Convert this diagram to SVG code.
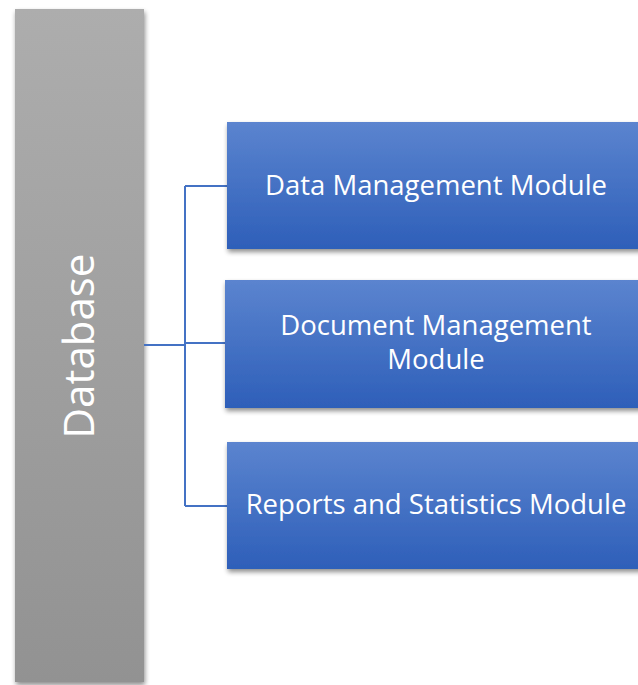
<svg xmlns="http://www.w3.org/2000/svg" width="638" height="685" viewBox="0 0 638 685">
<defs>
<linearGradient id="gray" x1="0" y1="0" x2="0" y2="1"><stop offset="0" stop-color="#adadad"/><stop offset="1" stop-color="#929292"/></linearGradient>
<linearGradient id="blue" x1="0" y1="0" x2="0" y2="1"><stop offset="0" stop-color="#5b84cf"/><stop offset="1" stop-color="#2e5fb9"/></linearGradient>
<filter id="sh" x="-10%" y="-10%" width="130%" height="130%"><feGaussianBlur in="SourceAlpha" stdDeviation="2.5"/><feOffset dx="1" dy="3"/><feComponentTransfer><feFuncA type="linear" slope="0.45"/></feComponentTransfer><feMerge><feMergeNode/><feMergeNode in="SourceGraphic"/></feMerge></filter>
</defs>
<style>
.box{fill:url(#blue);filter:url(#sh)}
.lbl{font-family:"Open Sans","DejaVu Sans",sans-serif;fill:#fff;text-anchor:middle}
.con{fill:none;stroke:#4472c4;stroke-width:2}
</style>
<g id="database">
<rect x="15" y="9" width="129" height="673" fill="url(#gray)" filter="url(#sh)"/>
<text class="lbl" transform="translate(94,346) rotate(-90)" font-size="42">Database</text>
</g>
<g id="connectors">
<path class="con" d="M144,345 H185 M185,186 V506 M185,186 H227 M185,343 H225 M185,506 H227"/>
</g>
<g id="data-management">
<rect class="box" x="227" y="122" width="420" height="127"/>
<text class="lbl" x="436" y="195" font-size="27.5">Data Management Module</text>
</g>
<g id="document-management">
<rect class="box" x="225" y="280" width="420" height="128"/>
<text class="lbl" x="436" y="335" font-size="27.5">Document Management</text>
<text class="lbl" x="436" y="369" font-size="27.5">Module</text>
</g>
<g id="reports-statistics">
<rect class="box" x="227" y="442" width="420" height="127"/>
<text class="lbl" x="436" y="514" font-size="27.5">Reports and Statistics Module</text>
</g>
</svg>
